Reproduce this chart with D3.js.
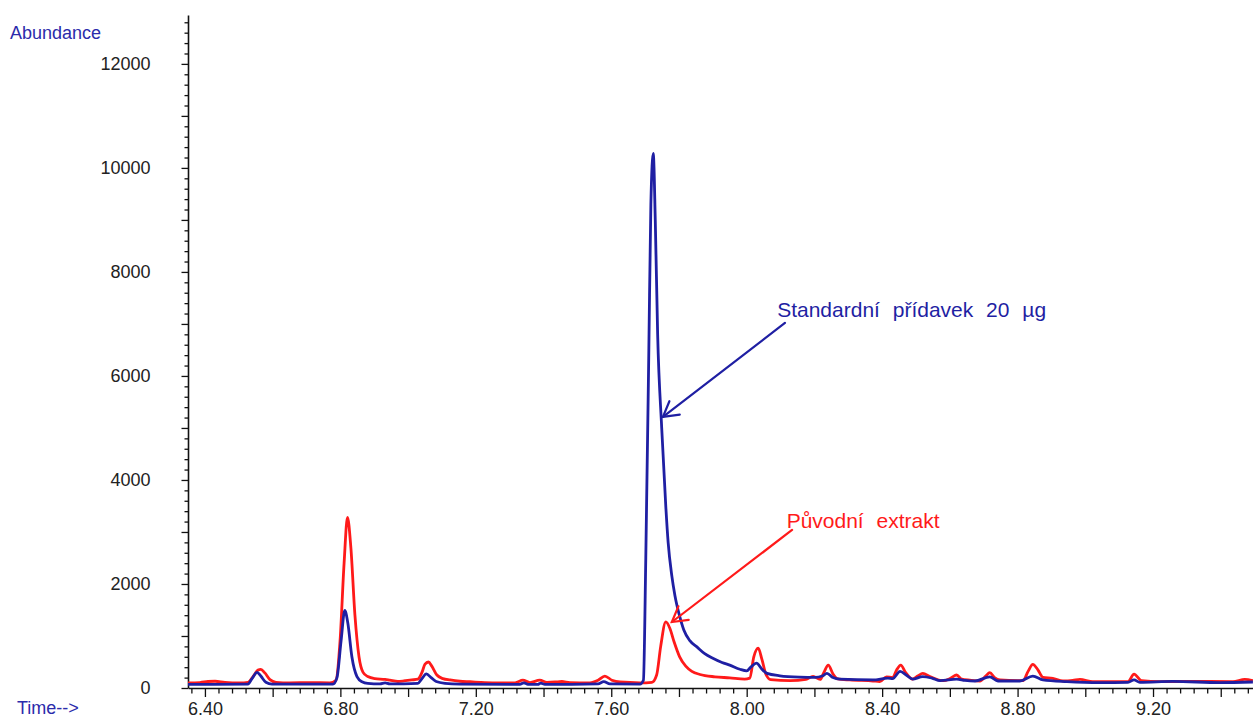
<!DOCTYPE html>
<html>
<head>
<meta charset="utf-8">
<script src="https://cdn.jsdelivr.net/npm/d3@7"></script>
<style>
  html, body { margin: 0; padding: 0; background: #fff; }
  svg { display: block; font-family: "Liberation Sans", Arial, sans-serif; }
</style>
</head>
<body>
<svg id="chart" width="1253" height="718"></svg>
<script>
// Extracted ion chromatogram: original extract vs. standard addition (20 µg)

// Retention times (min) and abundances of the original extract trace
const extractTime = [6.350, 6.385, 6.409, 6.430, 6.459, 6.503, 6.527, 6.542, 6.557, 6.565, 6.577, 6.592, 6.610, 6.651, 6.710, 6.769,
  6.787, 6.799, 6.811, 6.821, 6.831, 6.843, 6.855, 6.867, 6.881, 6.902, 6.932, 6.946, 6.970, 6.991, 7.011, 7.029,
  7.041, 7.050, 7.060, 7.070, 7.085, 7.103, 7.124, 7.153, 7.183, 7.227, 7.271, 7.316, 7.339, 7.360, 7.389, 7.410,
  7.434, 7.454, 7.478, 7.537, 7.561, 7.581, 7.602, 7.626, 7.685, 7.720, 7.734, 7.746, 7.761, 7.773, 7.785, 7.802,
  7.820, 7.838, 7.862, 7.906, 7.950, 7.994, 8.009, 8.021, 8.034, 8.045, 8.057, 8.071, 8.128, 8.175, 8.196, 8.217,
  8.228, 8.241, 8.255, 8.269, 8.305, 8.373, 8.393, 8.413, 8.431, 8.443, 8.455, 8.469, 8.490, 8.505, 8.520, 8.541,
  8.580, 8.603, 8.620, 8.635, 8.659, 8.689, 8.706, 8.718, 8.732, 8.748, 8.816, 8.831, 8.845, 8.860, 8.875, 8.904,
  8.934, 8.963, 8.984, 9.022, 9.126, 9.144, 9.166, 9.221, 9.300, 9.436, 9.471, 9.495];
const extractAbundance = [100, 105, 125, 130, 110, 100, 110, 220, 345, 360, 290, 160, 110, 100, 105, 100,
  150, 900, 2400, 3280, 2700, 1400, 600, 300, 220, 180, 165, 150, 125, 140, 155, 170,
  300, 460, 500, 420, 250, 180, 154, 130, 120, 105, 100, 100, 150, 105, 150, 110,
  115, 125, 105, 100, 150, 230, 150, 115, 100, 110, 250, 800, 1270, 1150, 900, 600,
  420, 320, 260, 215, 195, 170, 190, 600, 765, 550, 260, 160, 140, 165, 225, 165,
  300, 440, 270, 175, 155, 135, 125, 215, 200, 350, 440, 300, 170, 230, 280, 220,
  140, 190, 250, 170, 150, 135, 230, 295, 200, 155, 141, 320, 455, 350, 205, 186,
  135, 145, 167, 122, 122, 265, 140, 122, 128, 122, 167, 140];

// Retention times (min) and abundances of the standard-addition trace
const spikedTime = [6.350, 6.527, 6.539, 6.554, 6.565, 6.580, 6.598, 6.778, 6.790, 6.802, 6.813, 6.822, 6.834, 6.849, 6.864, 6.881,
  6.917, 6.932, 6.946, 7.029, 7.041, 7.054, 7.068, 7.083, 7.109, 7.153, 7.330, 7.342, 7.354, 7.383, 7.392, 7.404,
  7.561, 7.578, 7.596, 7.685, 7.695, 7.702, 7.711, 7.717, 7.724, 7.730, 7.737, 7.749, 7.761, 7.768, 7.779, 7.788,
  7.802, 7.814, 7.832, 7.853, 7.876, 7.900, 7.927, 7.950, 7.980, 8.000, 8.012, 8.029, 8.045, 8.060, 8.098, 8.157,
  8.202, 8.223, 8.237, 8.255, 8.275, 8.373, 8.417, 8.431, 8.453, 8.473, 8.490, 8.520, 8.547, 8.571, 8.620, 8.645,
  8.674, 8.718, 8.742, 8.807, 8.845, 8.875, 8.946, 9.043, 9.126, 9.144, 9.161, 9.259, 9.398, 9.495];
const spikedAbundance = [70, 75, 180, 300, 230, 110, 75, 75, 200, 900, 1490, 1250, 600, 220, 120, 90,
  80, 100, 80, 90, 180, 270, 200, 125, 90, 75, 70, 100, 70, 70, 95, 70,
  80, 122, 80, 75, 150, 2500, 6500, 9300, 10280, 9000, 6800, 5000, 3500, 2800, 2150, 1780,
  1380, 1120, 910, 790, 660, 570, 490, 440, 360, 330, 400, 480, 360, 280, 235, 210,
  205, 230, 280, 200, 170, 155, 190, 180, 320, 240, 170, 220, 190, 140, 170, 145,
  135, 215, 135, 135, 230, 155, 122, 103, 110, 155, 110, 128, 103, 115];

// Axis ticks
const timeTickSteps = d3.range(159, 238);          // multiples of 0.04 min
const abundanceTicks = d3.range(0, 12801, 200);

// Annotations: label anchor, arrow tail and arrow tip in data units
const annotations = [
  { text: "Standardní přídavek 20 µg", color: "#1f1fa3", label: [8.090, 7135], tail: [8.113, 7019], tip: [7.7526, 5212] },
  { text: "Původní extrakt", color: "#ff1a1a", label: [8.118, 3077], tail: [8.134, 3038], tip: [7.779, 1269] }
];

const svg = d3.select("#chart");
const x = d3.scaleLinear().domain([6.35, 9.50]).range([188, 1254.6]);
const y = d3.scaleLinear().domain([0, 12940]).range([688, 15]);

const labelFont = 18;

// Y axis
const yAxis = d3.axisLeft(y)
  .tickValues(abundanceTicks)
  .tickSize(3.5)
  .tickSizeOuter(0)
  .tickPadding(34)
  .tickFormat(v => v % 2000 === 0 ? String(v) : "");
const gy = svg.append("g").attr("transform", "translate(188,0)").call(yAxis);
gy.selectAll(".tick line").attr("x2", d => d % 1000 === 0 ? -6.5 : -3.5);
gy.selectAll(".tick text").attr("font-size", labelFont).attr("fill", "#222").attr("font-family", "Liberation Sans, Arial, sans-serif");
gy.selectAll("line, path").attr("stroke", "#111").attr("stroke-width", 1.3);
gy.select(".domain").attr("stroke-width", 1.6);

// X axis
const xAxis = d3.axisBottom(x)
  .tickValues(timeTickSteps.map(k => k * 0.04))
  .tickSize(5.5)
  .tickSizeOuter(0)
  .tickPadding(8.5)
  .tickFormat((d, i) => timeTickSteps[i] % 10 === 0 ? d3.format(".2f")(d) : "");
const gx = svg.append("g").attr("transform", "translate(0,688)").call(xAxis);
gx.selectAll(".tick line").attr("y2", (d, i) => timeTickSteps[i] % 5 === 0 ? 9 : 5.5);
gx.selectAll(".tick text").attr("font-size", labelFont).attr("fill", "#222").attr("font-family", "Liberation Sans, Arial, sans-serif");
gx.selectAll("line, path").attr("stroke", "#111").attr("stroke-width", 1.3);
gx.select(".domain").attr("stroke-width", 1.6);

// Axis titles
svg.append("text").attr("x", 10).attr("y", 39).attr("font-size", labelFont).attr("fill", "#2b2bab").text("Abundance");
svg.append("text").attr("x", 17).attr("y", 714).attr("font-size", labelFont).attr("fill", "#2b2bab").text("Time-->");

// Traces
const line = d3.line()
  .x(d => x(d[0]))
  .y(d => y(d[1]))
  .curve(d3.curveMonotoneX);

const plot = svg.append("g");
plot.append("path")
  .datum(d3.zip(extractTime, extractAbundance))
  .attr("fill", "none").attr("stroke", "#ff1a1a").attr("stroke-width", 2.8)
  .attr("stroke-linejoin", "round").attr("d", line);
plot.append("path")
  .datum(d3.zip(spikedTime, spikedAbundance))
  .attr("fill", "none").attr("stroke", "#1f1fa3").attr("stroke-width", 2.8)
  .attr("stroke-linejoin", "round").attr("d", line);

// Annotation arrows with open heads
annotations.forEach(a => {
  const x0 = x(a.tail[0]), y0 = y(a.tail[1]);
  const x1 = x(a.tip[0]), y1 = y(a.tip[1]);
  const ang = Math.atan2(y0 - y1, x0 - x1);
  const head = 17, spread = Math.PI / 6;
  const g = svg.append("g").attr("stroke", a.color).attr("stroke-width", 2.2).attr("fill", "none").attr("stroke-linecap", "round");
  g.append("line").attr("x1", x0).attr("y1", y0).attr("x2", x1).attr("y2", y1);
  g.append("path").attr("d",
    `M${x1 + head * Math.cos(ang - spread)},${y1 + head * Math.sin(ang - spread)}` +
    `L${x1},${y1}` +
    `L${x1 + head * Math.cos(ang + spread)},${y1 + head * Math.sin(ang + spread)}`);
  svg.append("text")
    .attr("x", x(a.label[0])).attr("y", y(a.label[1]))
    .attr("font-size", 21).attr("word-spacing", 7)
    .attr("fill", a.color).text(a.text);
});
</script>
</body>
</html>
